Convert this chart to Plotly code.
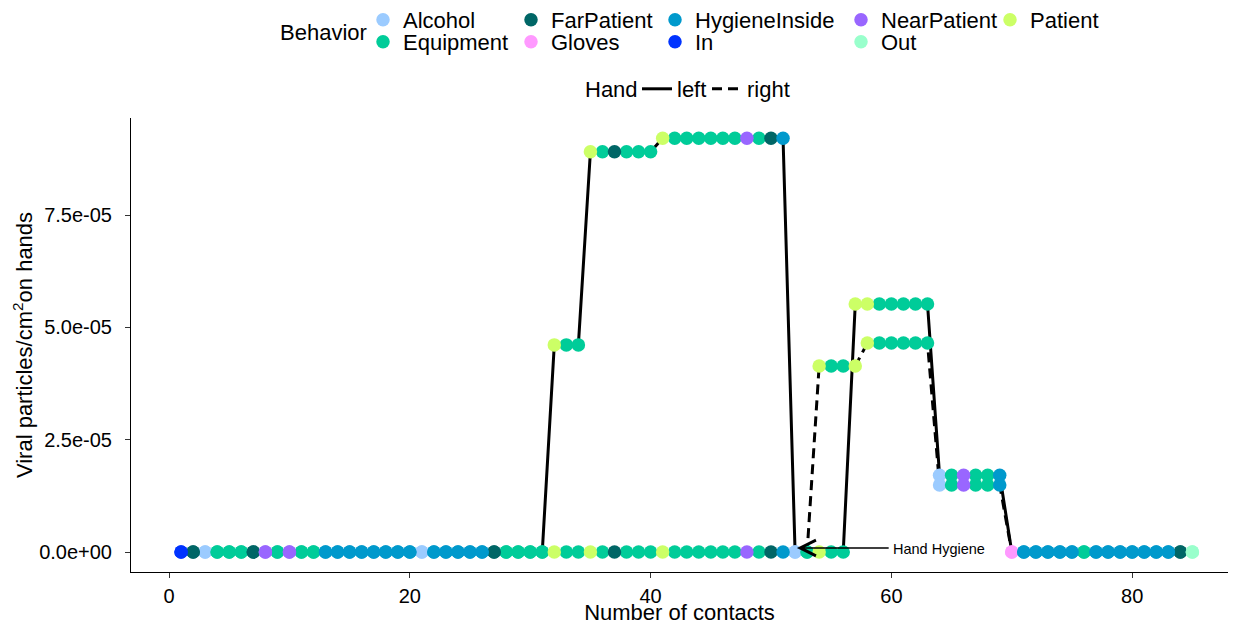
import plotly.graph_objects as go

# ---------------- data ----------------
contacts = list(range(1, 86))

behavior = [
    "In", "FarPatient", "Alcohol", "Equipment", "Equipment", "Equipment", "FarPatient", "NearPatient", "Equipment", "NearPatient",
    "Equipment", "Equipment", "HygieneInside", "HygieneInside", "HygieneInside", "HygieneInside", "HygieneInside", "HygieneInside", "HygieneInside", "HygieneInside",
    "Alcohol", "HygieneInside", "HygieneInside", "HygieneInside", "HygieneInside", "HygieneInside", "FarPatient", "Equipment", "Equipment", "Equipment",
    "Equipment", "Patient", "Equipment", "Equipment", "Patient", "Equipment", "FarPatient", "Equipment", "Equipment", "Equipment",
    "Patient", "Equipment", "Equipment", "Equipment", "Equipment", "Equipment", "Equipment", "NearPatient", "Equipment", "FarPatient",
    "HygieneInside", "Alcohol", "Equipment", "Patient", "Equipment", "Equipment", "Patient", "Patient", "Equipment", "Equipment",
    "Equipment", "Equipment", "Equipment", "Alcohol", "Equipment", "NearPatient", "Equipment", "Equipment", "HygieneInside", "Gloves",
    "HygieneInside", "HygieneInside", "HygieneInside", "HygieneInside", "HygieneInside", "Equipment", "HygieneInside", "HygieneInside", "HygieneInside", "HygieneInside",
    "HygieneInside", "HygieneInside", "HygieneInside", "FarPatient", "Out",
]

left_hand = [
    0, 0, 0, 0, 0, 0, 0, 0, 0, 0,
    0, 0, 0, 0, 0, 0, 0, 0, 0, 0,
    0, 0, 0, 0, 0, 0, 0, 0, 0, 0,
    0, 4.61e-5, 4.61e-5, 4.61e-5, 8.91e-5, 8.91e-5, 8.91e-5, 8.91e-5, 8.91e-5, 8.91e-5,
    9.21e-5, 9.21e-5, 9.21e-5, 9.21e-5, 9.21e-5, 9.21e-5, 9.21e-5, 9.21e-5, 9.21e-5, 9.21e-5,
    9.21e-5, 0, 0, 0, 0, 0, 5.52e-5, 5.52e-5, 5.52e-5, 5.52e-5,
    5.52e-5, 5.52e-5, 5.52e-5, 1.71e-5, 1.71e-5, 1.71e-5, 1.71e-5, 1.71e-5, 1.71e-5, 0,
    0, 0, 0, 0, 0, 0, 0, 0, 0, 0,
    0, 0, 0, 0, 0,
]

right_hand = [
    0, 0, 0, 0, 0, 0, 0, 0, 0, 0,
    0, 0, 0, 0, 0, 0, 0, 0, 0, 0,
    0, 0, 0, 0, 0, 0, 0, 0, 0, 0,
    0, 0, 0, 0, 0, 0, 0, 0, 0, 0,
    0, 0, 0, 0, 0, 0, 0, 0, 0, 0,
    0, 0, 0, 4.14e-5, 4.14e-5, 4.14e-5, 4.14e-5, 4.65e-5, 4.65e-5, 4.65e-5,
    4.65e-5, 4.65e-5, 4.65e-5, 1.49e-5, 1.49e-5, 1.49e-5, 1.49e-5, 1.49e-5, 1.49e-5, 0,
    0, 0, 0, 0, 0, 0, 0, 0, 0, 0,
    0, 0, 0, 0, 0,
]

behavior_levels = ["Alcohol", "Equipment", "FarPatient", "Gloves", "HygieneInside",
                   "In", "NearPatient", "Out", "Patient"]
behavior_colors = ["#9BCBFF", "#00CC99", "#006666", "#FF99FF", "#0099CC",
                   "#0033FF", "#9966FF", "#99FFCC", "#CCFF66"]

hand_levels = ["left", "right"]

x_ticks = [0, 20, 40, 60, 80]
y_ticks = [0, 2.5e-5, 5e-5, 7.5e-5]
y_tick_labels = ["0.0e+00", "2.5e-05", "5.0e-05", "7.5e-05"]

hygiene_contact = 52
annotation_text = "Hand Hygiene"

# ---------------- layout helpers (pixel positions of legend entries) ----------------
W, H = 1239, 625
L, R, T, B = 131, 11, 118, 53
pw, ph = W - L - R, H - T - B

legend_px = {
    "Alcohol": (383, 20), "Equipment": (383, 42),
    "FarPatient": (531, 20), "Gloves": (531, 42),
    "HygieneInside": (675, 20), "In": (675, 42),
    "NearPatient": (861, 20), "Out": (861, 42),
    "Patient": (1010, 20),
    "left": (657, 89), "right": (727, 89),
}
FONT = "Liberation Sans, Arial, sans-serif"


def paper_x(px):
    return (px - L) / pw


def paper_y(py):
    return (H - B - py) / ph


fig = go.Figure()

hand_series = {"left": left_hand, "right": right_hand}
hand_dash = {"left": "solid", "right": "10px,6px"}
legend_ids = {}
for k, name in enumerate(behavior_levels + hand_levels, start=1):
    legend_ids[name] = "legend" if k == 1 else f"legend{k}"

# lines first (below points)
for h in hand_levels:
    fig.add_trace(go.Scatter(
        x=contacts, y=hand_series[h], mode="lines", name=h,
        line=dict(color="black", width=3, dash=hand_dash[h]),
        legend=legend_ids[h], showlegend=True, hoverinfo="skip",
    ))

for b, c in zip(behavior_levels, behavior_colors):
    xs, ys = [], []
    for h in hand_levels:
        vals = hand_series[h]
        for i, beh in enumerate(behavior):
            if beh == b:
                xs.append(contacts[i])
                ys.append(vals[i])
    fig.add_trace(go.Scatter(
        x=xs, y=ys, mode="markers", name=b,
        marker=dict(color=c, size=13.5, line=dict(width=0)),
        legend=legend_ids[b], showlegend=True,
    ))

legend_layout = {}
for name, (px, py) in legend_px.items():
    legend_layout[legend_ids[name]] = dict(
        xref="paper", yref="paper",
        x=paper_x(px - 20), y=paper_y(py),
        xanchor="left", yanchor="middle",
        orientation="v", bgcolor="rgba(0,0,0,0)",
        font=dict(family=FONT, size=22, color="black"),
        itemwidth=30, tracegroupgap=0,
    )
fig.update_layout(**legend_layout)

fig.add_annotation(x=paper_x(278), y=paper_y(32), xref="paper", yref="paper",
                   text="Behavior", showarrow=False, xanchor="left", yanchor="middle",
                   font=dict(family=FONT, size=22, color="black"))
fig.add_annotation(x=paper_x(583), y=paper_y(89), xref="paper", yref="paper",
                   text="Hand", showarrow=False, xanchor="left", yanchor="middle",
                   font=dict(family=FONT, size=22, color="black"))

# Hand hygiene annotation
fig.add_annotation(x=hygiene_contact + 0.15, y=9e-7, xref="x", yref="y",
                   ax=59.9, ay=9e-7, axref="x", ayref="y",
                   text="", showarrow=True, arrowhead=5, arrowsize=2.2,
                   arrowwidth=1.4, arrowcolor="black")
fig.add_annotation(x=60.0, y=7e-7, xref="x", yref="y", text=annotation_text,
                   showarrow=False, xanchor="left", yanchor="middle",
                   font=dict(family=FONT, size=14.5, color="black"))

fig.update_layout(
    width=W, height=H,
    margin=dict(l=L, r=R, t=T, b=B, autoexpand=False),
    paper_bgcolor="white", plot_bgcolor="white",
    font=dict(family=FONT, size=20, color="black"),
    xaxis=dict(
        range=[-3.16, 87.96], tickvals=x_ticks, ticks="outside", ticklen=5,
        tickcolor="#333333", showline=True, linecolor="black", linewidth=1,
        showgrid=False, zeroline=False, ticklabelstandoff=1,
        tickfont=dict(family=FONT, size=20, color="black"),
        title=dict(text="Number of contacts", standoff=4,
                   font=dict(family=FONT, size=22, color="black")),
    ),
    yaxis=dict(
        range=[-4.45e-6, 9.66e-5], tickvals=y_ticks, ticktext=y_tick_labels,
        ticks="outside", ticklen=5, tickcolor="#333333",
        showline=True, linecolor="black", linewidth=1,
        showgrid=False, zeroline=False, ticklabelstandoff=9,
        tickfont=dict(family=FONT, size=20, color="black"),
        title=dict(text="Viral particles/cm<sup>2</sup>on hands", standoff=0,
                   font=dict(family=FONT, size=22, color="black")),
    ),
)

fig.write_html("out.html")
